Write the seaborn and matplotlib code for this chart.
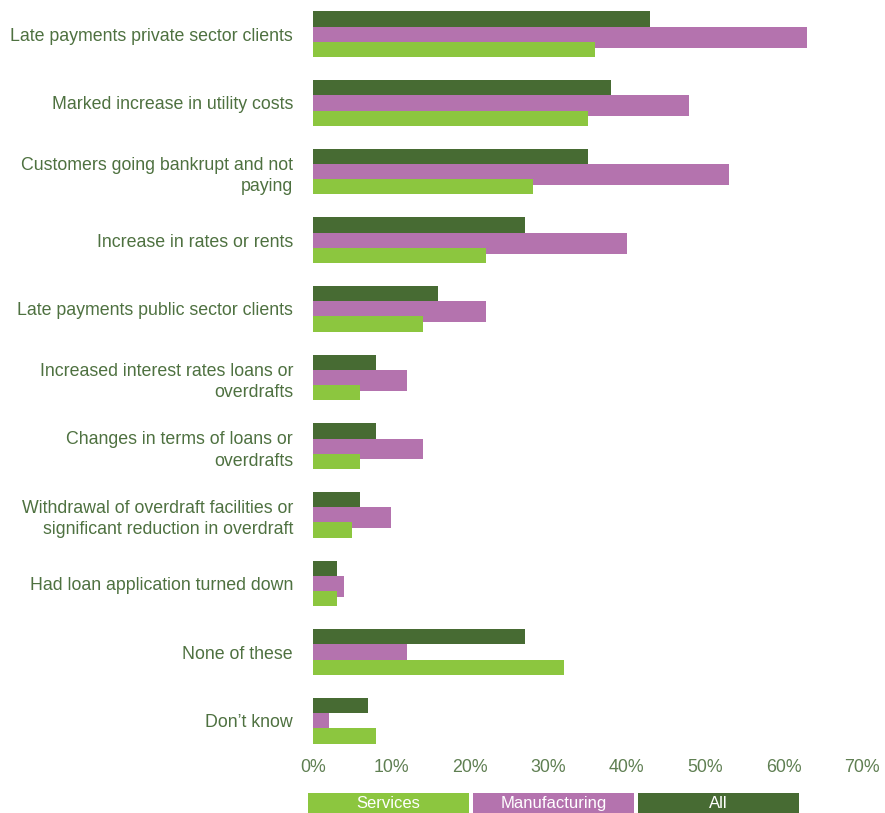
import matplotlib
matplotlib.use("Agg")
import matplotlib.pyplot as plt
import seaborn as sns
import pandas as pd
from matplotlib.patches import Rectangle

categories = [
    "Late payments private sector clients",
    "Marked increase in utility costs",
    "Customers going bankrupt and not\npaying",
    "Increase in rates or rents",
    "Late payments public sector clients",
    "Increased interest rates loans or\noverdrafts",
    "Changes in terms of loans or\noverdrafts",
    "Withdrawal of overdraft facilities or\nsignificant reduction in overdraft",
    "Had loan application turned down",
    "None of these",
    "Don\u2019t know",
]
all_values = [43, 38, 35, 27, 16, 8, 8, 6, 3, 27, 7]
manufacturing_values = [63, 48, 53, 40, 22, 12, 14, 10, 4, 12, 2]
services_values = [36, 35, 28, 22, 14, 6, 6, 5, 3, 32, 8]
series_names = ["All", "Manufacturing", "Services"]
x_ticks = [0, 10, 20, 30, 40, 50, 60, 70]
x_tick_labels = ["0%", "10%", "20%", "30%", "40%", "50%", "60%", "70%"]

colors = {"All": "#476b33", "Manufacturing": "#b473ae", "Services": "#8cc63f"}
text_color = "#4e7140"
tick_color = "#5f7f52"

df = pd.DataFrame({
    "category": categories * 3,
    "value": all_values + manufacturing_values + services_values,
    "series": ["All"] * 11 + ["Manufacturing"] * 11 + ["Services"] * 11,
})

sns.set_theme(style="white")
plt.rcParams["font.family"] = ["Liberation Sans", "DejaVu Sans"]

fig = plt.figure(figsize=(8.85, 8.13), dpi=100)
ax = fig.add_axes([313 / 885, 58 / 813, 549 / 885, 755 / 813])

sns.barplot(
    data=df, y="category", x="value", hue="series", hue_order=series_names,
    palette=colors, orient="h", width=0.667, dodge=True, saturation=1,
    legend=False, ax=ax, linewidth=0, order=categories,
)

# The manufacturing bars are drawn a little deeper, with services laid over them
for bar_container, name in zip(ax.containers, series_names):
    for patch in bar_container:
        if name == "Manufacturing":
            patch.set_height(patch.get_height() * 1.37)
            patch.set_zorder(2)
        elif name == "Services":
            patch.set_zorder(3)
        else:
            patch.set_zorder(1)

ax.set_xlim(0, 70)
ax.set_ylim(10.5, -0.5)
ax.set_xticks(x_ticks)
ax.set_xticklabels(x_tick_labels)
ax.set_xlabel("")
ax.set_ylabel("")
for s in ax.spines.values():
    s.set_visible(False)
ax.tick_params(axis="y", length=0, pad=14.4, labelsize=12.8, labelcolor=text_color)
ax.tick_params(axis="x", length=0, pad=3, labelsize=12.8, labelcolor=tick_color)
for lbl in ax.get_yticklabels():
    lbl.set_horizontalalignment("right")
    lbl.set_multialignment("right")
    lbl.set_linespacing(1.35)

# Legend strip along the bottom edge
legend_items = [("Services", 308), ("Manufacturing", 473), ("All", 638)]
for name, x0 in legend_items:
    fig.patches.append(Rectangle((x0 / 885, 0), 161 / 885, 20 / 813,
                                 transform=fig.transFigure,
                                 facecolor=colors[name], edgecolor="none"))
    fig.text((x0 + 80.5) / 885, 9.5 / 813, name, color="white", fontsize=12,
             ha="center", va="center")

fig.savefig("out.png", dpi=100)
